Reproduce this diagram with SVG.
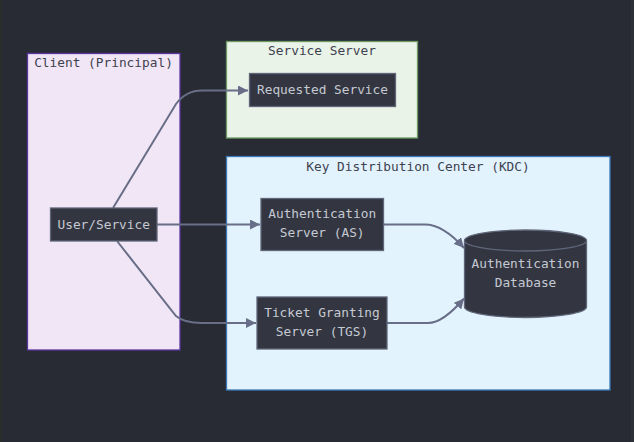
<svg xmlns="http://www.w3.org/2000/svg" width="634" height="442" viewBox="0 0 634 442">
<style>
text{font-family:"DejaVu Sans Mono","Liberation Mono",monospace;font-size:12.8px;text-anchor:middle}
.title{fill:#3e4250}
.lbl{fill:#c5c9d2}
.node{fill:#333641;stroke:#60667a;stroke-width:1.3}
.edge{fill:none;stroke:#686e88;stroke-width:2}
</style>
<defs>
<marker id="arr" markerUnits="userSpaceOnUse" viewBox="0 0 10 10" refX="10" refY="5" markerWidth="10" markerHeight="10" orient="auto">
<path d="M0,0 L10,5 L0,10 z" fill="#686e88"/>
</marker>
</defs>
<rect x="0" y="0" width="634" height="442" fill="#282b34"/>
<rect x="0" y="0" width="3" height="442" fill="#2b2c2c"/>
<rect x="631" y="0" width="3" height="442" fill="#2e3038"/>

<g id="cluster-client">
<rect x="27.5" y="53.5" width="152.5" height="296.5" fill="#f1e6f5" stroke="#5b35a0" stroke-width="1.3"/>
<text class="title" x="103.5" y="67">Client (Principal)</text>
</g>
<g id="cluster-service">
<rect x="226.5" y="41.5" width="191" height="96.5" fill="#eaf3e8" stroke="#6b9a63" stroke-width="1.3"/>
<text class="title" x="322" y="55">Service Server</text>
</g>
<g id="cluster-kdc">
<rect x="226.5" y="156.5" width="383.5" height="233.5" fill="#e3f3fd" stroke="#3b78b8" stroke-width="1.3"/>
<text class="title" x="418" y="170.5">Key Distribution Center (KDC)</text>
</g>

<g id="connectors">
<path class="edge" d="M113,208 L176,104 Q186,90.5 202,90.5 L248,90.5" marker-end="url(#arr)"/>
<path class="edge" d="M157,224.5 L260,224.5" marker-end="url(#arr)"/>
<path class="edge" d="M117,241 L176,316 Q184,323 202,323 L256,323" marker-end="url(#arr)"/>
<path class="edge" d="M383,224.5 L425,224.5 Q443,224.5 464,248" marker-end="url(#arr)"/>
<path class="edge" d="M387,323 L428,323 Q443,323 464,298.5" marker-end="url(#arr)"/>
</g>

<g id="node-user">
<rect class="node" x="50.5" y="208" width="106.5" height="33"/>
<text class="lbl" x="103.7" y="228.5">User/Service</text>
</g>
<g id="node-requested">
<rect class="node" x="249.5" y="73.5" width="146" height="33"/>
<text class="lbl" x="322.5" y="94.3">Requested Service</text>
</g>
<g id="node-as">
<rect class="node" x="261" y="198.5" width="122.5" height="52"/>
<text class="lbl" x="322.2" y="218.3">Authentication</text>
<text class="lbl" x="322.2" y="237.3">Server (AS)</text>
</g>
<g id="node-tgs">
<rect class="node" x="257" y="297" width="130" height="52"/>
<text class="lbl" x="322" y="317.3">Ticket Granting</text>
<text class="lbl" x="322" y="336">Server (TGS)</text>
</g>
<g id="node-db">
<path class="node" d="M464.5,240.5 a61,10.5 0 0,0 122,0 a61,10.5 0 0,0 -122,0 l0,66.5 a61,10.5 0 0,0 122,0 l0,-66.5"/>
<text class="lbl" x="525.5" y="268.3">Authentication</text>
<text class="lbl" x="525.5" y="287.3">Database</text>
</g>
</svg>
